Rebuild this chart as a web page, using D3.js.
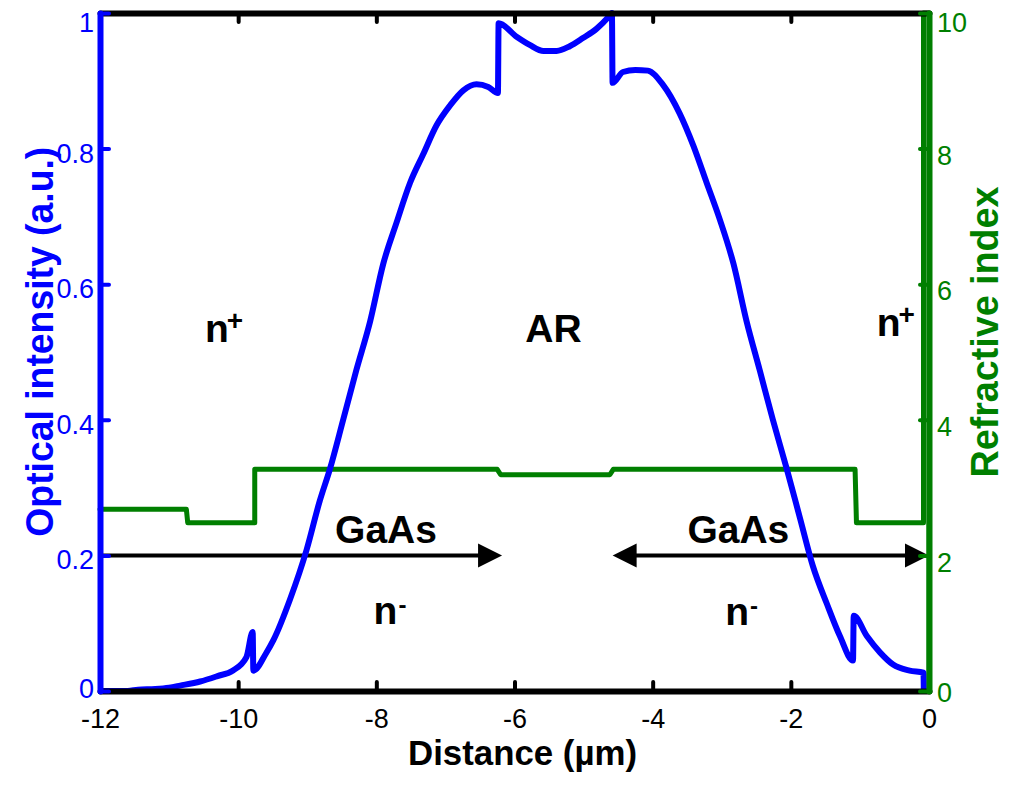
<!DOCTYPE html>
<html><head><meta charset="utf-8">
<script src="https://cdn.jsdelivr.net/npm/d3@7"></script>
<style>
body{margin:0;background:#fff}
svg{display:block}
text{font-family:"Liberation Sans",Arial,Helvetica,sans-serif}
</style>
</head><body>
<svg id="chart" width="1018" height="786"></svg>
<script>
// ---- data ----
const distance = [-12, -11.6, -11.45, -11.2, -11.0, -10.84, -10.55, -10.3, -10.08, -9.88, -9.79, -9.78, -9.6, -9.49, -9.25, -9.01, -8.82, -8.67, -8.48, -8.29, -8.09, -7.9, -7.71, -7.51, -7.32, -7.13, -6.93, -6.74, -6.55, -6.38, -6.24, -6.23, -5.97, -5.78, -5.58, -5.39, -5.2, -5.01, -4.81, -4.64, -4.59, -4.58, -4.43, -4.25, -4.07, -3.85, -3.61, -3.41, -3.22, -3.03, -2.83, -2.64, -2.45, -2.26, -2.06, -1.87, -1.68, -1.48, -1.29, -1.1, -1.09, -0.9, -0.71, -0.52, -0.28, -0.08, -0.075];
const intensity = [0, 0, 0.002, 0.003, 0.005, 0.008, 0.014, 0.022, 0.03, 0.05, 0.087, 0.03, 0.055, 0.075, 0.135, 0.208, 0.28, 0.328, 0.4, 0.473, 0.545, 0.63, 0.69, 0.75, 0.792, 0.834, 0.864, 0.886, 0.895, 0.891, 0.882, 0.985, 0.965, 0.953, 0.944, 0.944, 0.951, 0.963, 0.977, 0.994, 1.0, 0.897, 0.913, 0.916, 0.915, 0.894, 0.852, 0.804, 0.75, 0.696, 0.63, 0.545, 0.473, 0.4, 0.328, 0.256, 0.184, 0.129, 0.081, 0.045, 0.111, 0.081, 0.057, 0.039, 0.03, 0.027, 0];

const riDistance = [-12, -10.75, -10.73, -9.76, -9.76, -6.25, -6.2, -4.62, -4.57, -1.07, -1.05, -0.08, -0.08, 0, 0];
const refractiveIndex = [2.68, 2.68, 2.48, 2.48, 3.27, 3.27, 3.19, 3.19, 3.27, 3.27, 2.48, 2.48, 10, 10, 0];

const xTicks = [-12, -10, -8, -6, -4, -2, 0];
const yLeftTicks = [0, 0.2, 0.4, 0.6, 0.8, 1];
const yRightTicks = [0, 2, 4, 6, 8, 10];

const xTitle = "Distance (µm)";
const yLeftTitle = "Optical intensity (a.u.)";
const yRightTitle = "Refractive index";

// region annotations: [main, superscript, x (µm), intensity, anchor]
const regionLabels = [
  ["n", "+", -10.48, 0.515, "start"],
  ["AR", "", -5.435, 0.515, "middle"],
  ["n", "+", -0.757, 0.524, "start"],
  ["GaAs", "", -7.86, 0.218, "middle"],
  ["GaAs", "", -2.76, 0.218, "middle"],
  ["n", "-", -8.04, 0.099, "start"],
  ["n", "-", -2.95, 0.097, "start"]
];
// arrows: [from x, to x, at intensity, double headed]
const arrows = [
  [-12, -6.18, 0.2, false],
  [-4.58, 0, 0.2, true]
];

// ---- scales ----
const x = d3.scaleLinear().domain([-12, 0]).range([100, 929]);
const yL = d3.scaleLinear().domain([0, 1]).range([691, 13]);
const yR = d3.scaleLinear().domain([0, 10]).range([691, 13]);

const svg = d3.select("#chart");
const BLUE = "#0000ff", GREEN = "#007f00";

// ---- refractive index (green) ----
const riData = riDistance.map((d, i) => [d, refractiveIndex[i]]);
svg.append("path")
  .datum(riData)
  .attr("fill", "none")
  .attr("stroke", GREEN)
  .attr("stroke-width", 5)
  .attr("stroke-linejoin", "round")
  .attr("stroke-linecap", "round")
  .attr("d", d3.line().x(d => x(d[0])).y(d => yR(d[1])));

// ---- arrows ----
const ag = svg.append("g");
arrows.forEach(([x0, x1, yy, dbl]) => {
  const py = yL(yy), hl = 24, hw = 12;
  const px0 = x(x0), px1 = x(x1);
  ag.append("line")
    .attr("x1", dbl ? px0 + hl - 2 : px0).attr("x2", px1 - hl + 2)
    .attr("y1", py).attr("y2", py)
    .attr("stroke", "#000").attr("stroke-width", 4);
  ag.append("path")
    .attr("d", `M${px1},${py}L${px1 - hl},${py - hw}L${px1 - hl},${py + hw}Z`)
    .attr("fill", "#000");
  if (dbl) {
    ag.append("path")
      .attr("d", `M${px0},${py}L${px0 + hl},${py - hw}L${px0 + hl},${py + hw}Z`)
      .attr("fill", "#000");
  }
});

// ---- optical intensity (blue) ----
const oiData = distance.map((d, i) => [d, intensity[i]]);
svg.append("path")
  .datum(oiData)
  .attr("fill", "none")
  .attr("stroke", BLUE)
  .attr("stroke-width", 6)
  .attr("stroke-linejoin", "round")
  .attr("d", d3.line().curve(d3.curveMonotoneX).x(d => x(d[0])).y(d => yL(d[1])));

// ---- axes ----
function styleAxis(g, color, width) {
  g.select(".domain").attr("stroke", color).attr("stroke-width", width).attr("stroke-linecap", "round");
  g.selectAll(".tick line").attr("stroke", color).attr("stroke-width", 4).attr("stroke-linecap", "round");
  g.selectAll(".tick text").attr("fill", color).style("font-size", "27px")
    .style("font-family", '"Liberation Sans",Arial,sans-serif');
}
const gTop = svg.append("g").attr("transform", `translate(0,${yL(1)})`)
  .call(d3.axisTop(x).tickValues(xTicks).tickSize(-9).tickSizeOuter(0).tickFormat(""));
styleAxis(gTop, "#000", 6);

const gBottom = svg.append("g").attr("transform", `translate(0,${yL(0)})`)
  .call(d3.axisBottom(x).tickValues(xTicks).tickSize(-9).tickSizeOuter(0).tickPadding(18).tickFormat(d => String(d)));
styleAxis(gBottom, "#000", 6);

const gLeft = svg.append("g").attr("transform", `translate(${x(-12)},0)`)
  .call(d3.axisLeft(yL).tickValues(yLeftTicks).tickSize(-9).tickSizeOuter(0).tickPadding(6).tickFormat(d => String(d)));
styleAxis(gLeft, BLUE, 6);
gLeft.selectAll(".tick text").attr("dy", d => d === 1 ? "0.68em" : d === 0 ? "0.25em" : "0.5em");

const gRight = svg.append("g").attr("transform", `translate(${x(0)},0)`)
  .call(d3.axisRight(yR).tickValues(yRightTicks).tickSize(-9).tickSizeOuter(0).tickPadding(8).tickFormat(d => String(d)));
styleAxis(gRight, GREEN, 6);
gRight.selectAll(".tick text").attr("dy", d => d === 10 ? "0.68em" : d === 0 ? "0.4em" : "0.58em");

// ---- axis titles ----
svg.append("text")
  .attr("x", 522.5).attr("y", 765)
  .attr("text-anchor", "middle")
  .attr("font-weight", "bold").attr("font-size", 35)
  .attr("textLength", 229).attr("lengthAdjust", "spacingAndGlyphs")
  .attr("fill", "#000")
  .text(xTitle);

svg.append("text")
  .attr("transform", "translate(53,341.7) rotate(-90)")
  .attr("text-anchor", "middle")
  .attr("font-weight", "bold").attr("font-size", 39)
  .attr("textLength", 390).attr("lengthAdjust", "spacingAndGlyphs")
  .attr("fill", BLUE)
  .text(yLeftTitle);

svg.append("text")
  .attr("transform", "translate(998,332) rotate(-90)")
  .attr("text-anchor", "middle")
  .attr("font-weight", "bold").attr("font-size", 39)
  .attr("textLength", 291).attr("lengthAdjust", "spacingAndGlyphs")
  .attr("fill", GREEN)
  .text(yRightTitle);

// ---- region labels ----
regionLabels.forEach(([main, sup, xx, yy, anchor]) => {
  const t = svg.append("text")
    .attr("x", x(xx)).attr("y", yL(yy))
    .attr("text-anchor", anchor)
    .attr("font-weight", "bold").attr("font-size", 39)
    .attr("fill", "#000");
  t.append("tspan").text(main);
  if (sup === "+") {
    t.append("tspan").attr("font-size", 28).attr("dy", -12).attr("dx", -2).text("+");
  } else if (sup === "-") {
    t.append("tspan").attr("font-size", 24).attr("dy", -11).attr("dx", 1).text("-");
  }
});
</script>
</body></html>
